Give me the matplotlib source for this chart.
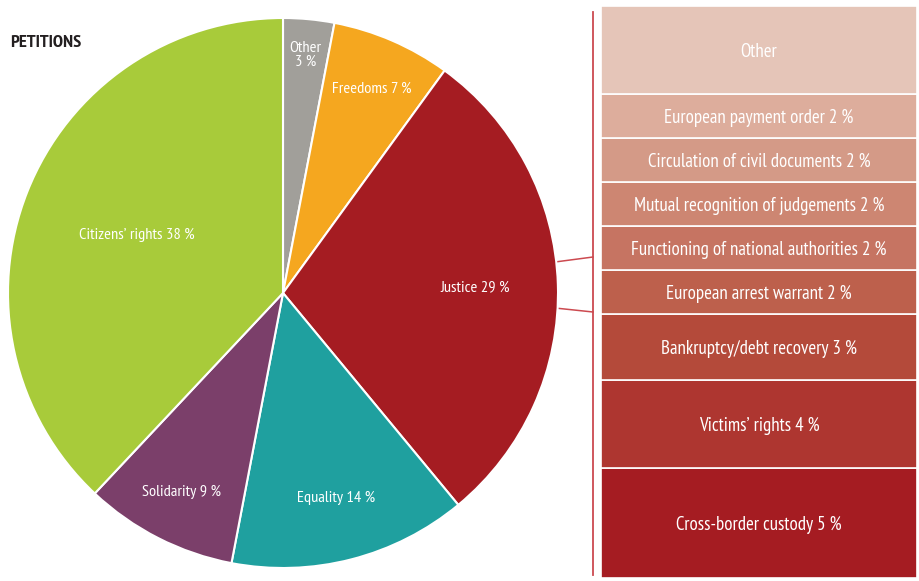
import matplotlib.pyplot as plt
import numpy as np

# Pie data (clockwise from top)
pie_labels = ["Other\n3 %", "Freedoms 7 %", "Justice 29 %", "Equality 14 %", "Solidarity 9 %", "Citizens\u2019 rights 38 %"]
pie_values = [3, 7, 29, 14, 9, 38]
pie_colors = ["#A19F9A", "#F5A71F", "#A51C22", "#1FA09F", "#7B3F6A", "#A8CB3A"]
label_r = [0.87, 0.81, 0.70, 0.77, 0.81, 0.57]

# Justice breakdown (bottom to top)
bar_labels = ["Cross-border custody 5 %", "Victims\u2019 rights 4 %", "Bankruptcy/debt recovery 3 %",
              "European arrest warrant 2 %", "Functioning of national authorities 2 %",
              "Mutual recognition of judgements 2 %", "Circulation of civil documents 2 %",
              "European payment order 2 %", "Other"]
bar_values = [5, 4, 3, 2, 2, 2, 2, 2, 4]
bar_colors = ["#A51C22", "#AE3630", "#B44A3A", "#BD604C", "#C67462", "#CD8672", "#D49A87", "#DDAD9C", "#E5C5B8"]

font = ["PT Sans Narrow", "DejaVu Sans"]
W, H = 919, 581
fig = plt.figure(figsize=(W / 100, H / 100), dpi=100)

# pie
ax = fig.add_axes([8 / W, (H - 568) / H, 550 / W, 550 / H])
wedges, _ = ax.pie(pie_values, colors=pie_colors, startangle=90, counterclock=False, radius=1,
                   wedgeprops=dict(edgecolor="white", linewidth=1.5))
ax.set_xlim(-1, 1)
ax.set_ylim(-1, 1)
ax.set_aspect("equal")
cum = np.cumsum([0] + pie_values)
for i, lab in enumerate(pie_labels):
    mid = (cum[i] + pie_values[i] / 2) / 100 * 2 * np.pi
    x = label_r[i] * np.sin(mid)
    y = label_r[i] * np.cos(mid)
    ax.text(x, y, lab, color="white", ha="center", va="center", fontsize=11.8,
            family=font, linespacing=1.05)

# stacked bar
bx = fig.add_axes([601 / W, (H - 578) / H, 316 / W, 572 / H])
bottom = 0
for v, lab, c in zip(bar_values, bar_labels, bar_colors):
    bx.bar(0, v, bottom=bottom, width=1, color=c, edgecolor="white", linewidth=1.2)
    bx.text(0, bottom + v / 2, lab, color="white", ha="center", va="center_baseline",
            fontsize=13.6, family=font)
    bottom += v
bx.set_xlim(-0.5, 0.5)
bx.set_ylim(0, sum(bar_values))
bx.axis("off")

# connector lines and title
ov = fig.add_axes([0, 0, 1, 1], zorder=-1)
ov.set_xlim(0, W)
ov.set_ylim(H, 0)
ov.axis("off")
lc = "#CC4A50"
ov.plot([593, 593], [12, 575], color=lc, lw=1.3)
ov.plot([555, 593], [262, 257], color=lc, lw=1.1)
ov.plot([555, 593], [308, 312], color=lc, lw=1.1)
ov.text(10, 43, "PETITIONS", fontsize=13.3, fontweight="bold", color="#231F20", family=font, va="center")

fig.savefig("out.png", dpi=100)
